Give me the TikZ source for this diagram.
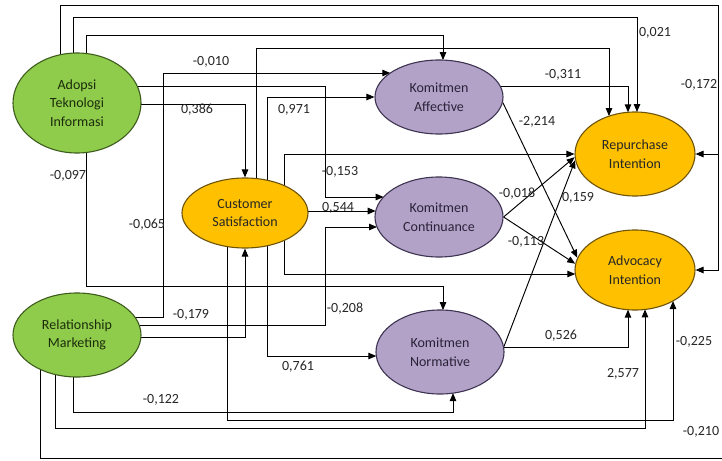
\documentclass[tikz,border=0pt]{standalone}
\usepackage{fontspec}
\setmainfont{Carlito}
\usetikzlibrary{arrows.meta,backgrounds,calc,shapes.geometric}

\definecolor{latentgreen}{RGB}{143,204,75}
\definecolor{greenedge}{RGB}{62,92,30}
\definecolor{greentext}{RGB}{28,44,12}
\definecolor{latentgold}{RGB}{255,192,0}
\definecolor{goldedge}{RGB}{110,84,10}
\definecolor{latentpurple}{RGB}{179,162,199}
\definecolor{purpleedge}{RGB}{62,52,82}
\definecolor{purpletext}{RGB}{40,34,56}

\begin{document}
\begin{tikzpicture}[x=1pt,y=-1pt,
  construct/.style={ellipse, draw, line width=1.1pt, inner sep=0pt, align=center,
    font=\fontsize{14}{18.5}\selectfont},
  exog/.style={construct, fill=latentgreen, draw=greenedge, text=greentext},
  outcome/.style={construct, fill=latentgold, draw=goldedge, text=black!85},
  commit/.style={construct, fill=latentpurple, draw=purpleedge, text=purpletext},
  link/.style={draw=black, line width=0.95pt, -{Triangle[length=8pt,width=6.5pt]}},
  plain/.style={draw=black, line width=0.95pt},
  coef/.style={font=\fontsize{14}{16}\selectfont, inner sep=0pt, text=black!85}
]
\useasboundingbox (0,0) rectangle (722,460);
\clip (0,0) rectangle (722,460);

% constructs
\node[exog, minimum width=128pt, minimum height=100pt] (ATI) at (77,103) {Adopsi\\Teknologi\\Informasi};
\node[outcome, minimum width=126pt, minimum height=70pt] (CS) at (245,213) {Customer\\Satisfaction};
\node[exog, minimum width=128pt, minimum height=84pt] (RM) at (77,335) {Relationship\\Marketing};
\node[commit, minimum width=128pt, minimum height=74pt] (KA) at (439,97) {Komitmen\\Affective};
\node[commit, minimum width=128pt, minimum height=80pt] (KC) at (439,217) {Komitmen\\Continuance};
\node[commit, minimum width=128pt, minimum height=84pt] (KN) at (440,352) {Komitmen\\Normative};
\node[outcome, minimum width=120pt, minimum height=84pt] (RI) at (635,154) {Repurchase\\Intention};
\node[outcome, minimum width=120pt, minimum height=80pt] (AI) at (635,270) {Advocacy\\Intention};

% start points (inside the constructs, hidden behind their fill)
\coordinate (ATIa) at ($(ATI.center)+(-17,0)$);
\coordinate (ATIb) at ($(ATI.center)+(-4,0)$);
\coordinate (ATIc) at ($(ATI.center)+(9,0)$);
\coordinate (ATId) at ($(ATI.center)+(0,-17)$);
\coordinate (ATIe) at ($(ATI.center)+(0,1)$);
\coordinate (CSa) at ($(CS.center)+(11,0)$);
\coordinate (CSb) at ($(CS.center)+(22,0)$);
\coordinate (CSc) at ($(CS.center)+(39,0)$);
\coordinate (CSd) at ($(CS.center)+(0,-2)$);
\coordinate (CSg) at ($(CS.center)+(-18,0)$);
\coordinate (RMa) at ($(RM.center)+(0,-18)$);
\coordinate (RMb) at ($(RM.center)+(0,-10)$);
\coordinate (RMc) at ($(RM.center)+(0,2)$);
\coordinate (RMd) at ($(RM.center)+(-4,0)$);
\coordinate (RMe) at ($(RM.center)+(-22,0)$);
\coordinate (RMf) at ($(RM.center)+(-37,0)$);
\coordinate (KAr) at ($(KA.center)+(0,-11)$);
\coordinate (KNr) at ($(KN.center)+(0,-5)$);

% end points on the borders
\coordinate (RIt1) at ($(RI.center)+(-26,-37.9)$);
\coordinate (RIt2) at ($(RI.center)+(-7,-41.7)$);
\coordinate (RIt3) at ($(RI.center)+(2,-42)$);
\coordinate (KAt)  at ($(KA.center)+(4,-36.9)$);
\coordinate (KAl)  at ($(KA.center)+(-48.7,-24)$);
\coordinate (KCl1) at ($(KC.center)+(-55.4,-20)$);
\coordinate (KCl2) at ($(KC.center)+(-63.3,-6)$);
\coordinate (KCl3) at ($(KC.center)+(-62,10)$);
\coordinate (KNt)  at ($(KN.center)+(3,-41.9)$);
\coordinate (KNl)  at ($(KN.center)+(-63.7,4)$);
\coordinate (KNb)  at ($(KN.center)+(13,41.1)$);
\coordinate (AIl)  at ($(AI.center)+(-59.7,4)$);
\coordinate (AIb1) at ($(AI.center)+(-7,39.7)$);
\coordinate (AIb2) at ($(AI.center)+(10,39.4)$);
\coordinate (AIb3) at ($(AI.center)+(38,31)$);
\coordinate (offR) at (730,458);

\begin{scope}[on background layer]
  % paths leaving Adopsi Teknologi Informasi
  \draw[link] (ATIa) |- (718,5) |- (RI.east);
  \draw[link] (RI.east -| 718,0) |- (AI.east);
  \draw[link] (ATIb) |- (RIt3 |- 0,17) -- (RIt3);
  \draw[link] (ATIc) |- (KAt |- 0,35) -- (KAt);
  \draw[link] (ATId) -| (KCl1 -| 325,0) -- (KCl1);
  \draw[link] (ATIe) -| (CS.north);
  \draw[link] (ATIc) |- (KNt |- 0,286) -- (KNt);
  % paths leaving Customer Satisfaction
  \draw[link] (CSa) |- (RIt1 |- 0,48) -- (RIt1);
  \draw[link] (CSb) |- (KA.west);
  \draw[link] (CSc) |- (RI.west);
  \draw[link] (CSd) -- (KCl2);
  \draw[link] (CSc) |- (AIl);
  \draw[link] (CSb) |- (KNl);
  \draw[link] (CSg) |- (AIb3 |- 0,420) -- (AIb3);
  % paths leaving Relationship Marketing
  \draw[link] (RMa) -| (KAl -| 163,0) -- (KAl);
  \draw[link] (RMb) -| (KCl3 -| 325,0) -- (KCl3);
  \draw[link] (RMc) -| (CS.south);
  \draw[link] (RMd) |- (KNb |- 0,412) -- (KNb);
  \draw[link] (RMe) |- (AIb2 |- 0,428) -- (AIb2);
  \draw[plain] (RMf) |- (offR);
  % paths leaving the commitment constructs
  \draw[link] (KAr) -| (RIt2);
  \draw[link] (KA.355) -- (AI.168);
  \draw[link] (KC.east) -- (RI.183);
  \draw[link] (KC.east) -- (AI.174);
  \draw[link] (KN.5) -- (RI.186);
  \draw[link] (KNr) -| (AIb1);
\end{scope}

% path coefficients
\node[coef] (c1)  at (211,62)  {-0,010};
\node[coef] (c2)  at (197,110) {0,386};
\node[coef] (c3)  at (294,110) {0,971};
\node[coef] (c4)  at (68,176)  {-0,097};
\node[coef] (c5)  at (340,172) {-0,153};
\node[coef] (c6)  at (338,208) {0,544};
\node[coef] (c7)  at (147,225) {-0,065};
\node[coef] (c8)  at (563,75)  {-0,311};
\node[coef] (c9)  at (655,33)  {0,021};
\node[coef] (c10) at (699,85)  {-0,172};
\node[coef] (c11) at (537,122) {-2,214};
\node[coef] (c12) at (517,194) {-0,018};
\node[coef] (c13) at (578,198) {0,159};
\node[coef] (c14) at (526,242) {-0,113};
\node[coef] (c15) at (561,336) {0,526};
\node[coef] (c16) at (694,342) {-0,225};
\node[coef] (c17) at (623,374) {2,577};
\node[coef] (c18) at (701,432) {-0,210};
\node[coef] (c19) at (191,315) {-0,179};
\node[coef] (c20) at (345,309) {-0,208};
\node[coef] (c21) at (298,367) {0,761};
\node[coef] (c22) at (161,400) {-0,122};
\end{tikzpicture}
\end{document}
